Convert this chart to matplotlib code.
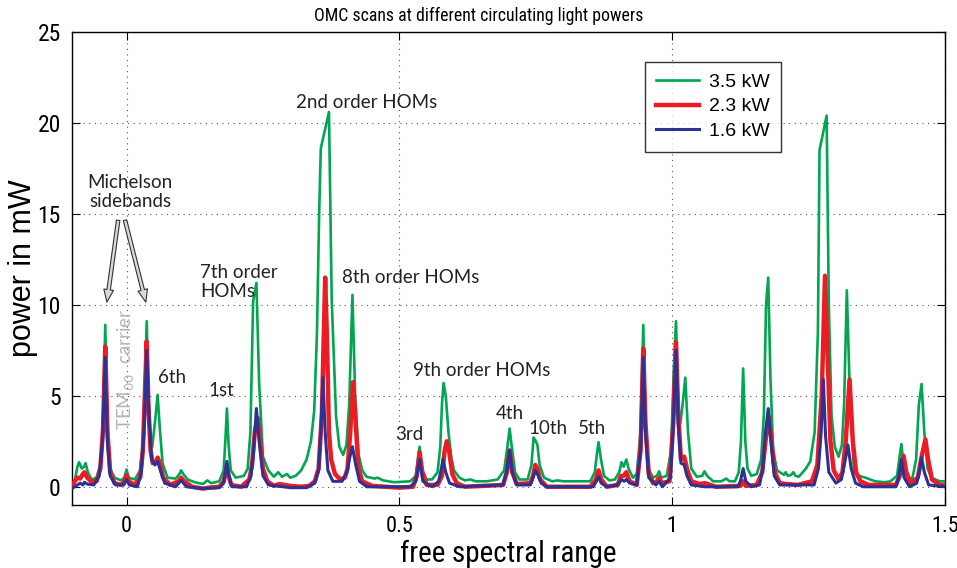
import numpy as np
import matplotlib.pyplot as plt
from matplotlib import font_manager

# OMC scan traces, keypoints (x in FSR, y in mW)
green_x = [-0.1, -0.095, -0.09, -0.087, -0.082, -0.078, -0.075, -0.071, -0.064, -0.055,
           -0.048, -0.043, -0.039, -0.035, -0.03, -0.022, -0.01, -0.004, 0.0, 0.004,
           0.015, 0.025, 0.03, 0.034, 0.037, 0.04, 0.043, 0.047, 0.052, 0.057,
           0.061, 0.066, 0.075, 0.09, 0.097, 0.1, 0.104, 0.112, 0.125, 0.14,
           0.148, 0.155, 0.17, 0.178, 0.181, 0.184, 0.187, 0.191, 0.2, 0.215,
           0.222, 0.227, 0.232, 0.238, 0.243, 0.25, 0.26, 0.27, 0.278, 0.285,
           0.294, 0.3, 0.31, 0.32, 0.33, 0.338, 0.344, 0.349, 0.353, 0.356,
           0.371, 0.376, 0.384, 0.39, 0.397, 0.403, 0.408, 0.414, 0.419, 0.425,
           0.432, 0.44, 0.455, 0.46, 0.47, 0.49, 0.52, 0.53, 0.537, 0.542,
           0.55, 0.56, 0.57, 0.575, 0.578, 0.581, 0.585, 0.59, 0.595, 0.6,
           0.61, 0.62, 0.63, 0.64, 0.66, 0.68, 0.692, 0.698, 0.702, 0.706,
           0.712, 0.72, 0.735, 0.742, 0.746, 0.75, 0.753, 0.757, 0.765, 0.78,
           0.79, 0.8, 0.82, 0.85, 0.858, 0.862, 0.865, 0.869, 0.875, 0.885,
           0.895, 0.903, 0.907, 0.911, 0.916, 0.92, 0.928, 0.935, 0.942, 0.947,
           0.951, 0.956, 0.965, 0.972, 0.976, 0.98, 0.99, 0.998, 1.003, 1.007,
           1.011, 1.015, 1.019, 1.024, 1.029, 1.035, 1.045, 1.055, 1.059, 1.064,
           1.075, 1.09, 1.099, 1.105, 1.115, 1.122, 1.126, 1.13, 1.134, 1.138,
           1.145, 1.155, 1.163, 1.168, 1.172, 1.176, 1.18, 1.185, 1.192, 1.2,
           1.205, 1.208, 1.212, 1.218, 1.222, 1.226, 1.232, 1.245, 1.253, 1.261,
           1.267, 1.27, 1.283, 1.287, 1.292, 1.298, 1.305, 1.311, 1.315, 1.32,
           1.325, 1.333, 1.342, 1.354, 1.372, 1.39, 1.4, 1.412, 1.416, 1.42,
           1.424, 1.43, 1.44, 1.447, 1.452, 1.457, 1.462, 1.468, 1.475, 1.49,
           1.5]
green_y = [0.1, 0.3, 1.1, 1.35, 1.0, 1.1, 1.3, 0.8, 0.4, 0.5,
           1.2, 3.5, 8.9, 3.5, 1.0, 0.5, 0.35, 0.5, 0.95, 0.5,
           0.4, 0.9, 2.5, 6.0, 9.1, 5.0, 3.0, 2.2, 3.5, 5.05,
           3.2, 1.3, 0.5, 0.45, 0.7, 0.9, 0.7, 0.4, 0.25, 0.15,
           0.35, 0.2, 0.3, 0.9, 2.5, 4.3, 2.3, 0.9, 0.5, 0.6,
           1.0, 3.0, 10.2, 11.2, 5.7, 1.65, 0.9, 0.55, 0.8, 0.55,
           0.7, 0.5, 0.6, 0.9, 1.5, 2.5, 4.2, 8.5, 15.0, 18.6,
           20.6, 10.3, 3.85, 2.2, 1.75, 2.3, 4.5, 10.55, 5.0, 1.8,
           0.9, 0.55, 0.45, 0.5, 0.35, 0.25, 0.3, 0.6, 2.2, 0.9,
           0.4, 0.4, 0.8, 2.2, 4.5, 5.7, 5.0, 3.0, 1.65, 0.9,
           0.5, 0.35, 0.4, 0.3, 0.3, 0.4, 0.9, 2.2, 3.2, 2.2,
           0.8, 0.4, 0.4, 1.2, 2.7, 2.5, 2.3, 1.2, 0.5, 0.3,
           0.35, 0.3, 0.3, 0.3, 0.8, 1.8, 2.45, 1.6, 0.6, 0.35,
           0.4, 0.8, 1.35, 1.1, 1.5, 1.0, 0.5, 0.7, 3.0, 8.9,
           3.5, 1.0, 0.5, 0.6, 0.85, 0.5, 0.6, 2.0, 6.5, 9.1,
           4.5, 3.5, 4.5, 6.0, 3.0, 1.0, 0.55, 0.6, 0.85, 0.6,
           0.3, 0.3, 0.45, 0.3, 0.3, 0.8, 2.5, 6.5, 2.5, 1.0,
           0.6, 0.7, 1.5, 4.0, 10.0, 11.5, 6.0, 2.0, 0.9, 0.75,
           0.65, 0.8, 0.6, 0.65, 0.8, 0.6, 0.55, 1.0, 1.4, 3.0,
           8.5, 18.5, 20.4, 10.0, 3.9, 2.2, 1.65, 2.3, 4.5, 10.8,
           5.7, 0.9, 0.6, 0.5, 0.3, 0.25, 0.3, 0.6, 1.5, 2.35,
           1.2, 0.5, 0.45, 1.5, 4.5, 5.65, 3.0, 1.0, 0.5, 0.3,
           0.3]

red_x = [-0.1, -0.095, -0.09, -0.085, -0.08, -0.077, -0.072, -0.065, -0.055, -0.048,
         -0.043, -0.039, -0.035, -0.03, -0.022, -0.01, -0.004, 0.0, 0.004, 0.015,
         0.025, 0.03, 0.034, 0.037, 0.04, 0.044, 0.048, 0.053, 0.057, 0.062,
         0.067, 0.08, 0.095, 0.1, 0.106, 0.12, 0.14, 0.15, 0.17, 0.178,
         0.181, 0.184, 0.187, 0.192, 0.21, 0.225, 0.23, 0.235, 0.24, 0.245,
         0.25, 0.258, 0.27, 0.28, 0.3, 0.32, 0.335, 0.345, 0.352, 0.358,
         0.362, 0.364, 0.367, 0.371, 0.375, 0.382, 0.392, 0.4, 0.405, 0.41,
         0.415, 0.42, 0.425, 0.432, 0.45, 0.5, 0.525, 0.532, 0.537, 0.542,
         0.55, 0.57, 0.578, 0.583, 0.587, 0.591, 0.597, 0.605, 0.62, 0.69,
         0.697, 0.702, 0.707, 0.715, 0.74, 0.745, 0.749, 0.753, 0.758, 0.77,
         0.85, 0.86, 0.865, 0.87, 0.88, 0.9, 0.906, 0.911, 0.916, 0.922,
         0.935, 0.942, 0.947, 0.951, 0.957, 0.965, 0.972, 0.976, 0.981, 0.995,
         1.002, 1.007, 1.011, 1.016, 1.022, 1.027, 1.035, 1.05, 1.06, 1.08,
         1.125, 1.13, 1.135, 1.155, 1.165, 1.172, 1.177, 1.182, 1.188, 1.197,
         1.21, 1.23, 1.256, 1.266, 1.274, 1.28, 1.284, 1.29, 1.296, 1.305,
         1.312, 1.318, 1.325, 1.331, 1.337, 1.345, 1.36, 1.41, 1.417, 1.424,
         1.429, 1.437, 1.45, 1.456, 1.464, 1.469, 1.476, 1.49, 1.5]
red_y = [0.0, 0.3, 0.5, 0.45, 0.7, 0.8, 0.5, 0.3, 0.3, 1.0,
         3.2, 7.7, 3.0, 0.8, 0.2, 0.1, 0.3, 0.65, 0.3, 0.1,
         0.5, 2.0, 5.5, 8.0, 4.5, 2.0, 1.3, 1.3, 1.6, 1.2,
         0.5, 0.1, 0.3, 0.5, 0.3, 0.0, -0.1, -0.05, 0.0, 0.3,
         0.7, 1.1, 0.6, 0.1, 0.0, 0.4, 1.2, 3.0, 3.8, 2.5,
         1.0, 0.3, 0.05, 0.15, 0.05, 0.0, 0.05, 0.3, 1.0, 4.0,
         9.0, 11.5, 8.5, 3.0, 1.5, 0.7, 0.4, 0.5, 1.0, 3.0,
         5.75, 3.5, 1.0, 0.3, 0.05, -0.05, 0.0, 0.6, 1.9, 0.8,
         0.1, 0.1, 0.6, 2.0, 2.5, 2.0, 0.7, 0.2, 0.0, 0.1,
         0.8, 2.0, 0.8, 0.15, 0.2, 0.6, 1.2, 1.0, 0.4, 0.0,
         0.0, 0.4, 0.9, 0.4, 0.0, 0.1, 0.6, 0.6, 0.8, 0.3,
         0.1, 2.0, 7.6, 3.5, 0.7, 0.2, 0.3, 0.5, 0.2, 0.3,
         3.5, 7.95, 4.0, 1.5, 1.65, 1.0, 0.3, 0.15, 0.2, 0.0,
         0.05, 0.3, 0.05, 0.1, 0.8, 2.8, 3.85, 2.5, 0.8, 0.2,
         0.15, 0.1, 0.3, 1.2, 5.0, 11.6, 8.0, 2.5, 0.9, 0.4,
         0.8, 2.5, 5.9, 2.5, 0.8, 0.3, 0.1, 0.1, 0.6, 1.7,
         0.8, 0.2, 0.5, 1.5, 2.6, 1.5, 0.4, 0.1, 0.1]

blue_x = [-0.1, -0.09, -0.085, -0.08, -0.077, -0.072, -0.06, -0.05, -0.044, -0.039,
          -0.035, -0.03, -0.02, -0.005, 0.0, 0.005, 0.02, 0.027, 0.032, 0.037,
          0.041, 0.046, 0.052, 0.057, 0.062, 0.07, 0.09, 0.1, 0.11, 0.14,
          0.17, 0.178, 0.181, 0.184, 0.187, 0.193, 0.22, 0.228, 0.233, 0.238,
          0.243, 0.25, 0.26, 0.3, 0.33, 0.345, 0.352, 0.356, 0.36, 0.364,
          0.369, 0.378, 0.395, 0.404, 0.409, 0.414, 0.42, 0.427, 0.44, 0.52,
          0.53, 0.537, 0.543, 0.56, 0.572, 0.577, 0.58, 0.585, 0.592, 0.61,
          0.69, 0.697, 0.702, 0.707, 0.715, 0.74, 0.745, 0.749, 0.753, 0.76,
          0.77, 0.855, 0.861, 0.865, 0.87, 0.88, 0.9, 0.907, 0.912, 0.916,
          0.922, 0.935, 0.942, 0.947, 0.951, 0.957, 0.97, 0.976, 0.982, 0.997,
          1.002, 1.007, 1.011, 1.016, 1.022, 1.027, 1.035, 1.06, 1.12, 1.125,
          1.13, 1.135, 1.145, 1.16, 1.166, 1.171, 1.176, 1.181, 1.187, 1.197,
          1.26, 1.268, 1.273, 1.277, 1.281, 1.287, 1.3, 1.31, 1.316, 1.322,
          1.328, 1.336, 1.35, 1.41, 1.415, 1.42, 1.425, 1.435, 1.448, 1.453,
          1.457, 1.462, 1.47, 1.5]
blue_y = [-0.1, 0.1, 0.2, 0.1, 0.25, 0.15, 0.1, 0.6, 2.5, 7.1,
          2.5, 0.6, 0.1, 0.1, 0.4, 0.1, 0.0, 0.8, 3.0, 7.5,
          4.0, 1.5, 1.2, 1.4, 0.9, 0.2, 0.0, 0.35, 0.0, -0.1,
          -0.05, 0.2, 0.8, 1.4, 0.7, 0.0, 0.0, 0.6, 2.0, 4.3,
          2.5, 0.6, 0.1, -0.05, -0.05, 0.2, 0.9, 3.0, 6.0, 3.0,
          0.9, 0.3, 0.3, 0.8, 1.6, 2.2, 1.2, 0.3, 0.0, 0.0,
          0.3, 1.5, 0.3, 0.0, 0.3, 1.0, 1.5, 0.8, 0.2, 0.0,
          0.1, 0.9, 2.0, 0.8, 0.1, 0.1, 0.5, 0.9, 0.7, 0.2,
          0.0, 0.0, 0.3, 0.55, 0.2, 0.0, 0.1, 0.4, 0.3, 0.4,
          0.2, 0.1, 2.0, 7.1, 3.0, 0.5, 0.1, 0.3, 0.0, 0.5,
          3.5, 7.5, 3.5, 1.3, 1.2, 0.6, 0.1, 0.0, 0.0, 0.3,
          1.0, 0.3, 0.0, 0.1, 1.0, 3.0, 4.3, 2.5, 0.6, 0.1,
          0.1, 1.0, 3.0, 5.9, 2.8, 0.8, 0.2, 0.4, 1.3, 2.3,
          1.0, 0.2, 0.0, 0.0, 0.5, 1.5, 0.5, 0.0, 0.2, 0.8,
          1.6, 0.8, 0.1, 0.0]

series_labels = ['3.5 kW', '2.3 kW', '1.6 kW']
series_colors = ['#00a651', '#ed1c24', '#2e3192']

x_ticks = [0, 0.5, 1, 1.5]
x_tick_labels = ['0', '0.5', '1', '1.5']
y_ticks = [0, 5, 10, 15, 20, 25]

# pick a narrow font if one is installed
installed = {f.name for f in font_manager.fontManager.ttflist}
narrow = None
for name in ['Liberation Sans Narrow', 'DejaVu Sans Condensed', 'Roboto Condensed',
             'Open Sans Condensed', 'Noto Sans Condensed']:
    if name in installed:
        narrow = name
        break
if narrow is None:
    narrow = 'Lato'
narrow_stretch = 'condensed'
note_font = ['Lato', 'DejaVu Sans']

fig = plt.figure(figsize=(9.57, 5.68), dpi=100)
ax = fig.add_axes([0.0752, 0.111, 0.9123, 0.8327])

ax.plot(green_x, green_y, color=series_colors[0], lw=1.9, label=series_labels[0], zorder=3)
ax.plot(red_x, red_y, color=series_colors[1], lw=3.2, label=series_labels[1], zorder=4)
ax.plot(blue_x, blue_y, color=series_colors[2], lw=2.2, label=series_labels[2], zorder=5)

ax.set_xlim(-0.1, 1.5)
ax.set_ylim(-1, 25)
ax.set_xticks(x_ticks)
ax.set_xticklabels(x_tick_labels, family=narrow, stretch=narrow_stretch, fontsize=16)
ax.set_yticks(y_ticks)
ax.set_yticklabels([str(v) for v in y_ticks], family=narrow, stretch=narrow_stretch, fontsize=17)
ax.tick_params(direction='in', top=True, right=True, length=6, width=0.8, pad=8)
ax.grid(True, linestyle=(0, (1, 4)), color='#555555', linewidth=0.8)
for s in ax.spines.values():
    s.set_linewidth(1.0)

ax.set_xlabel('free spectral range', family=narrow, stretch=narrow_stretch, fontsize=21, labelpad=2)
ax.set_ylabel('power in mW', family='Liberation Sans', fontsize=22)
ax.yaxis.set_label_coords(-0.039, 0.5)
ax.set_title('OMC scans at different circulating light powers', family=narrow,
             stretch=narrow_stretch, fontsize=12.8, pad=8, x=0.466)

leg = ax.legend(loc='upper left', bbox_to_anchor=(0.656, 0.937), borderaxespad=0,
                prop={'family': 'Liberation Sans', 'size': 14},
                frameon=True, fancybox=False, edgecolor='black', handlelength=2.2,
                borderpad=0.6, labelspacing=0.35, handletextpad=0.5)
leg.get_frame().set_linewidth(1.0)

# annotations
txt = dict(family=note_font, fontsize=13.5, color='#222222')
ax.text(0.007, 16.2, 'Michelson\nsidebands', ha='center', va='center', multialignment='center', **txt)
ax.text(0.44, 21.1, '2nd order HOMs', ha='center', va='center', **txt)
ax.text(0.135, 11.26, '7th order\nHOMs', ha='left', va='center', **txt)
ax.text(0.395, 11.5, '8th order HOMs', ha='left', va='center', **txt)
ax.text(0.525, 6.37, '9th order HOMs', ha='left', va='center', **txt)
ax.text(0.057, 6.0, '6th', ha='left', va='center', **txt)
ax.text(0.15, 5.27, '1st', ha='left', va='center', **txt)
ax.text(0.492, 2.9, '3rd', ha='left', va='center', **txt)
ax.text(0.676, 4.0, '4th', ha='left', va='center', **txt)
ax.text(0.737, 3.2, '10th', ha='left', va='center', **txt)
ax.text(0.828, 3.2, '5th', ha='left', va='center', **txt)
ax.text(0.0, 3.1, r'TEM$_{00}$  carrier', rotation=90, ha='center', va='bottom',
        family=note_font, fontsize=13.5, color='#b5b5b5')

arrow = dict(arrowstyle='simple,head_width=0.7,head_length=0.9,tail_width=0.25',
             fc='#d9d9d9', ec='#333333', lw=0.8)
ax.annotate('', xy=(-0.0366, 10.0), xytext=(-0.0146, 14.8), arrowprops=arrow)
ax.annotate('', xy=(0.0366, 10.0), xytext=(-0.004, 14.8), arrowprops=arrow)

fig.savefig('out.png', dpi=100)
